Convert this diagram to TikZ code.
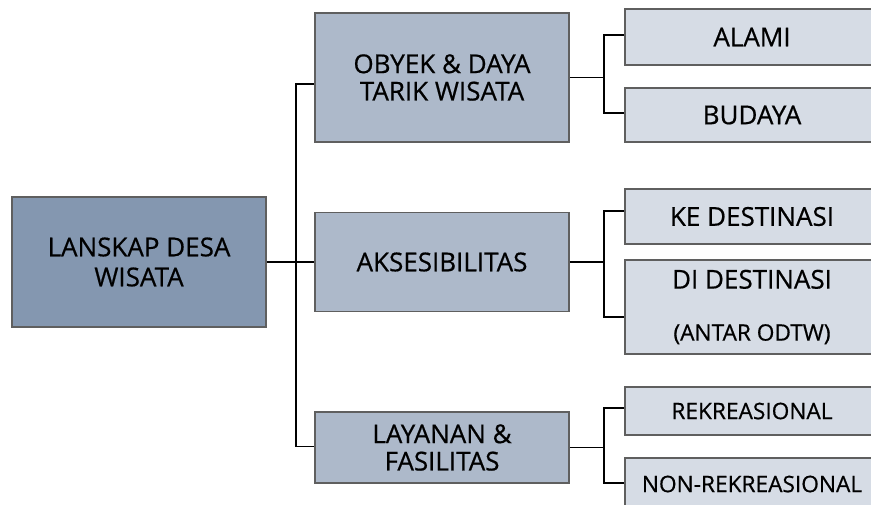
\documentclass[tikz,border=0pt]{standalone}
\usepackage{fontspec}
\setmainfont{Open Sans}
\newfontface\boxfont{Open Sans}[FakeBold=0.6]
\usepackage{tikz}

\definecolor{rootfill}{RGB}{132,151,176}
\definecolor{midfill}{RGB}{173,185,202}
\definecolor{leaffill}{RGB}{214,220,229}
\definecolor{boxline}{RGB}{95,95,95}

\tikzset{
  box/.style={draw=boxline, line width=1.2pt, rectangle, inner sep=0pt, align=center, text=black},
  rootbox/.style={box, fill=rootfill, minimum width=254*0.75pt, font=\boxfont\fontsize{19.5}{22.5}\selectfont},
  midbox/.style={box, fill=midfill, minimum width=254*0.75pt, font=\boxfont\fontsize{19.5}{20.5}\selectfont},
  leafbox/.style={box, fill=leaffill, minimum width=254*0.75pt, font=\boxfont\fontsize{19.5}{22}\selectfont},
  wire/.style={draw=black, line width=1.4pt}
}

\begin{document}
\begin{tikzpicture}[x=0.75pt,y=0.75pt,yscale=-1,xscale=1]
\clip (0,0) rectangle (871,504);

%Root
\node (root) [rootbox, minimum height=130*0.75pt] at (139,262) {LANSKAP DESA\\WISATA};

%Middle column
\node (obyek) [midbox, minimum height=129*0.75pt] at (442,77.5) {OBYEK \& DAYA\\TARIK WISATA};
\node (akses) [midbox, minimum height=99*0.75pt] at (442,262) {AKSESIBILITAS};
\node (layanan) [midbox, minimum height=71*0.75pt] at (442,447.5) {LAYANAN \&\\FASILITAS};

%Right column
\node (alami) [leafbox, minimum height=56*0.75pt] at (752,37) {ALAMI};
\node (budaya) [leafbox, minimum height=54*0.75pt] at (752,115) {BUDAYA};
\node (ke) [leafbox, minimum height=55*0.75pt] at (752,216.5) {KE DESTINASI};
\node (di) [leafbox, minimum height=94*0.75pt] at (752,307) {DI DESTINASI\\[17pt]{\fontsize{17}{19}\selectfont (ANTAR ODTW)}};
\node (rek) [leafbox, minimum height=48*0.75pt, font=\boxfont\fontsize{17}{19}\selectfont] at (752,411) {REKREASIONAL};
\node (non) [leafbox, minimum height=52*0.75pt, font=\boxfont\fontsize{17}{19}\selectfont] at (752,484) {NON-REKREASIONAL};

%Spine
\draw [wire] (root.east) -- ++(29,0) coordinate (spine);
\draw [wire] ([yshift=6.5*0.75pt]obyek.west) -| (spine) |- ([yshift=-1*0.75pt]layanan.west);
\draw [wire] (spine) -- (akses.west);

%Branches
\draw [wire] (obyek.east) -- ++(34,0) coordinate (b1);
\draw [wire] ([yshift=-2*0.75pt]alami.west) -| (b1) |- ([yshift=-2*0.75pt]budaya.west);
\draw [wire] (akses.east) -- ++(34,0) coordinate (b2);
\draw [wire] ([yshift=-5.5*0.75pt]ke.west) -| (b2) |- ([yshift=10*0.75pt]di.west);
\draw [wire] (layanan.east) -- ++(34,0) coordinate (b3);
\draw [wire] ([yshift=-3*0.75pt]rek.west) -| (b3) |- ([yshift=-1*0.75pt]non.west);

\end{tikzpicture}
\end{document}
